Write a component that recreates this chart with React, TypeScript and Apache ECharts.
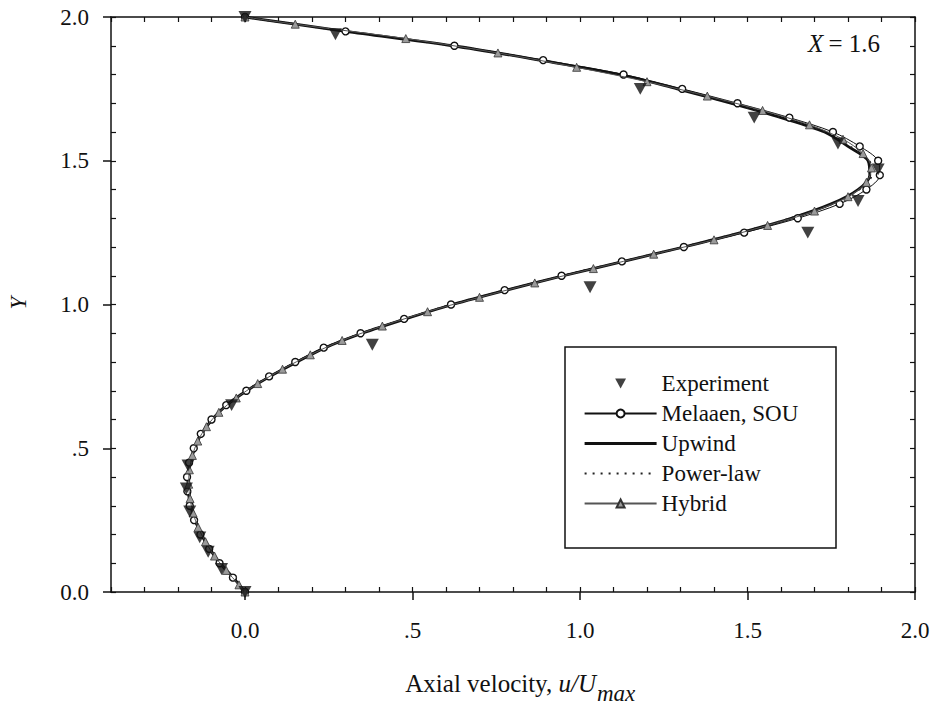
import React, { useEffect, useRef } from "react";
import * as echarts from "echarts";

const FONT = "'Times New Roman', 'Liberation Serif', 'DejaVu Serif', 'Noto Serif', serif";
const INK = "#111";

// Transverse positions Y at which the computed profiles are sampled
const yLevels = [
  0.0, 0.05, 0.1, 0.15, 0.2, 0.25, 0.3, 0.35, 0.4, 0.45,
  0.5, 0.55, 0.6, 0.65, 0.7, 0.75, 0.8, 0.85, 0.9, 0.95,
  1.0, 1.05, 1.1, 1.15, 1.2, 1.25, 1.3, 1.35, 1.4, 1.45,
  1.5, 1.55, 1.6, 1.65, 1.7, 1.75, 1.8, 1.85, 1.9, 1.95, 2.0,
];

// Axial velocity u/Umax for each scheme at yLevels
const upwindU = [
  0.0, -0.035, -0.075, -0.105, -0.13, -0.148, -0.16, -0.167, -0.168, -0.163,
  -0.15, -0.13, -0.098, -0.055, 0.005, 0.075, 0.155, 0.24, 0.35, 0.48,
  0.62, 0.78, 0.95, 1.13, 1.31, 1.48, 1.63, 1.75, 1.83, 1.865,
  1.86, 1.8, 1.73, 1.6, 1.45, 1.29, 1.12, 0.88, 0.62, 0.3, 0.0,
];
const powerLawU = [
  0.0, -0.034, -0.074, -0.104, -0.13, -0.149, -0.161, -0.168, -0.169, -0.164,
  -0.151, -0.131, -0.099, -0.056, 0.003, 0.073, 0.153, 0.238, 0.348, 0.478,
  0.618, 0.778, 0.948, 1.128, 1.308, 1.478, 1.628, 1.752, 1.834, 1.87,
  1.864, 1.805, 1.733, 1.603, 1.452, 1.292, 1.121, 0.881, 0.621, 0.301, 0.0,
];
const melaaenU = [
  0.0, -0.036, -0.076, -0.107, -0.133, -0.152, -0.165, -0.172, -0.173, -0.167,
  -0.153, -0.132, -0.1, -0.056, 0.004, 0.072, 0.15, 0.235, 0.345, 0.475,
  0.615, 0.775, 0.945, 1.125, 1.31, 1.49, 1.65, 1.775, 1.855, 1.895,
  1.89, 1.835, 1.755, 1.625, 1.47, 1.305, 1.13, 0.89, 0.625, 0.3, 0.0,
];

// Hybrid scheme is sampled on the staggered levels
const hybridY = [
  0.0, 0.025, 0.075, 0.125, 0.175, 0.225, 0.275, 0.325, 0.375, 0.425,
  0.475, 0.525, 0.575, 0.625, 0.675, 0.725, 0.775, 0.825, 0.875, 0.925,
  0.975, 1.025, 1.075, 1.125, 1.175, 1.225, 1.275, 1.325, 1.375, 1.425,
  1.475, 1.525, 1.575, 1.625, 1.675, 1.725, 1.775, 1.825, 1.875, 1.925,
  1.975, 2.0,
];
const hybridU = [
  0.0, -0.018, -0.056, -0.091, -0.118, -0.14, -0.155, -0.164, -0.168, -0.166,
  -0.157, -0.141, -0.115, -0.078, -0.026, 0.038, 0.112, 0.195, 0.29, 0.41,
  0.545, 0.7, 0.865, 1.04, 1.22, 1.4, 1.56, 1.7, 1.8, 1.855,
  1.87, 1.845, 1.785, 1.685, 1.545, 1.38, 1.2, 0.99, 0.755, 0.48,
  0.15, 0.0,
];

// Measured profile
const expY = [
  0.0, 0.08, 0.14, 0.19, 0.28, 0.36, 0.44, 0.65, 0.86, 1.06,
  1.25, 1.36, 1.47, 1.56, 1.65, 1.75, 1.94, 2.0,
];
const expU = [
  0.0, -0.07, -0.11, -0.135, -0.165, -0.175, -0.17, -0.04, 0.38, 1.03,
  1.68, 1.83, 1.89, 1.77, 1.52, 1.18, 0.27, 0.0,
];

const xMajorTicks = [0, 0.5, 1.0, 1.5, 2.0];
const xTickLabels = ["0.0", ".5", "1.0", "1.5", "2.0"];
const yMajorTicks = [0, 0.5, 1.0, 1.5, 2.0];
const yTickLabels = ["0.0", ".5", "1.0", "1.5", "2.0"];

const pairs = (us: number[], ys: number[]) => us.map((u, i) => [u, ys[i]]);

const labelFor = (ticks: number[], labels: string[]) => (v: number) => {
  const i = ticks.findIndex((t) => Math.abs(t - v) < 1e-6);
  return i >= 0 ? labels[i] : "";
};

const DOWN_TRIANGLE = "path://M0,0 L12,0 L6,11 Z";

export default function App() {
  const ref = useRef<HTMLDivElement>(null);

  useEffect(() => {
    document.body.style.margin = "0";
    if (!ref.current) return;
    const chart = echarts.init(ref.current, undefined, { renderer: "svg" });

    const axisLine = { show: true, onZero: false, lineStyle: { color: INK, width: 1.5 } };
    const noLine = { show: false, onZero: false };
    const minorTicks = {
      show: true,
      inside: true,
      length: 5,
      lineStyle: { color: INK, width: 1.2 },
    };
    const majorTicks = (values: number[]) => ({
      show: true,
      inside: false,
      length: 8,
      customValues: values,
      lineStyle: { color: INK, width: 1.5 },
    });
    const tickText = { fontFamily: FONT, fontSize: 23, color: INK };

    chart.setOption({
      animation: false,
      backgroundColor: "#fff",
      textStyle: { fontFamily: FONT },
      grid: { left: 111, top: 17, width: 804, height: 575, containLabel: false },
      xAxis: [
        {
          type: "value",
          position: "bottom",
          min: -0.4,
          max: 2.0,
          interval: 0.1,
          axisLine,
          axisTick: minorTicks,
          axisLabel: { show: false },
          splitLine: { show: false },
        },
        {
          type: "value",
          position: "bottom",
          min: -0.4,
          max: 2.0,
          axisLine: noLine,
          axisTick: majorTicks(xMajorTicks),
          axisLabel: {
            show: true,
            customValues: xMajorTicks,
            formatter: labelFor(xMajorTicks, xTickLabels),
            margin: 27,
            ...tickText,
          },
          splitLine: { show: false },
        },
        {
          type: "value",
          position: "top",
          min: -0.4,
          max: 2.0,
          interval: 0.1,
          axisLine,
          axisTick: minorTicks,
          axisLabel: { show: false },
          splitLine: { show: false },
        },
      ],
      yAxis: [
        {
          type: "value",
          position: "left",
          min: 0,
          max: 2.0,
          interval: 0.1,
          axisLine,
          axisTick: minorTicks,
          axisLabel: { show: false },
          splitLine: { show: false },
        },
        {
          type: "value",
          position: "left",
          min: 0,
          max: 2.0,
          axisLine: noLine,
          axisTick: majorTicks(yMajorTicks),
          axisLabel: {
            show: true,
            customValues: yMajorTicks,
            formatter: labelFor(yMajorTicks, yTickLabels),
            margin: 22,
            ...tickText,
          },
          splitLine: { show: false },
        },
        {
          type: "value",
          position: "right",
          min: 0,
          max: 2.0,
          interval: 0.1,
          axisLine,
          axisTick: minorTicks,
          axisLabel: { show: false },
          splitLine: { show: false },
        },
      ],
      legend: {
        data: [
          "Experiment",
          "Melaaen, SOU",
          { name: "Upwind", itemStyle: { opacity: 0 }, lineStyle: { width: 3.2 } },
          { name: "Power-law", itemStyle: { opacity: 0 } },
          "Hybrid",
        ],
        orient: "vertical",
        left: 578,
        top: 367,
        itemWidth: 72,
        itemHeight: 10,
        itemGap: 7,
        selectedMode: false,
        textStyle: {
          fontFamily: FONT,
          fontSize: 23,
          color: INK,
          lineHeight: 23,
        },
      },
      graphic: [
        {
          type: "rect",
          shape: { x: 565, y: 347, width: 271, height: 201 },
          style: { fill: "none", stroke: INK, lineWidth: 1.5 },
          z: 10,
        },
        {
          type: "text",
          style: {
            text: "{i|X}{n|\u2009= 1.6}",
            x: 880,
            y: 43,
            align: "right",
            verticalAlign: "middle",
            rich: {
              i: { fontFamily: FONT, fontSize: 25, fontStyle: "italic", fill: INK },
              n: { fontFamily: FONT, fontSize: 25, fill: INK },
            },
          },
          z: 10,
        },
        {
          type: "text",
          x: 18,
          y: 303,
          rotation: Math.PI / 2,
          style: {
            text: "Y",
            x: 0,
            y: 0,
            align: "center",
            verticalAlign: "middle",
            fontFamily: FONT,
            fontSize: 23,
            fontStyle: "italic",
            fill: INK,
          },
          z: 10,
        },
        {
          type: "text",
          style: {
            text: "{n|Axial velocity, }{i|u/U}",
            x: 596,
            y: 683,
            align: "right",
            verticalAlign: "middle",
            rich: {
              n: { fontFamily: FONT, fontSize: 25, fill: INK },
              i: { fontFamily: FONT, fontSize: 25, fontStyle: "italic", fill: INK },
            },
          },
          z: 10,
        },
        {
          type: "text",
          style: {
            text: "max",
            x: 597,
            y: 693,
            align: "left",
            verticalAlign: "middle",
            fontFamily: FONT,
            fontSize: 23,
            fontStyle: "italic",
            fill: INK,
          },
          z: 10,
        },
      ],
      series: [
        {
          name: "Upwind",
          type: "line",
          data: pairs(upwindU, yLevels),
          smooth: 0.3,
          symbol: "none",
          lineStyle: { color: INK, width: 2.8 },
          itemStyle: { color: INK },
          z: 2,
        },
        {
          name: "Power-law",
          type: "line",
          data: pairs(powerLawU, yLevels),
          smooth: 0.3,
          symbol: "none",
          lineStyle: { color: "#222", width: 2, type: [2, 6] },
          itemStyle: { color: "#222" },
          z: 3,
        },
        {
          name: "Melaaen, SOU",
          type: "line",
          data: pairs(melaaenU, yLevels),
          smooth: 0.3,
          symbol: "circle",
          symbolSize: 7,
          showAllSymbol: true,
          lineStyle: { color: INK, width: 1 },
          itemStyle: { color: "#fff", borderColor: INK, borderWidth: 1.4 },
          z: 4,
        },
        {
          name: "Hybrid",
          type: "line",
          data: pairs(hybridU, hybridY),
          smooth: 0.3,
          symbol: "triangle",
          symbolSize: 8,
          showAllSymbol: true,
          lineStyle: { color: "#555", width: 1 },
          itemStyle: { color: "#9a9a9a", borderColor: "#333", borderWidth: 0.8 },
          z: 5,
        },
        {
          name: "Experiment",
          type: "scatter",
          data: pairs(expU, expY),
          symbol: DOWN_TRIANGLE,
          symbolSize: 13,
          symbolKeepAspect: true,
          itemStyle: { color: INK },
          z: 6,
        },
      ],
    });

    return () => chart.dispose();
  }, []);

  return <div ref={ref} style={{ width: 939, height: 706 }} />;
}
